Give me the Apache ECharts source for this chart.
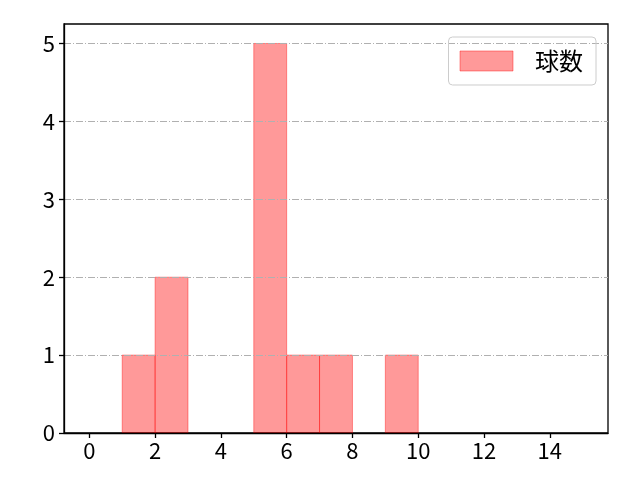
<!DOCTYPE html>
<html>
<head>
    <meta charset="utf-8">
    <title>球数</title>
    <script src="https://cdn.jsdelivr.net/npm/echarts@6/dist/echarts.min.js"></script>
    <style>
        html, body { margin: 0; padding: 0; background: #fff; }
        #main { width: 640px; height: 480px; }
    </style>
</head>
<body>
<div id="main"></div>
<script type="text/javascript">
    // histogram bins (left edge, right edge) and counts
    var binStart = [1, 2, 5, 6, 7, 9];
    var binEnd = [2, 3, 6, 7, 8, 10];
    var counts = [1, 2, 5, 1, 1, 1];
    var xTicks = [0, 2, 4, 6, 8, 10, 12, 14];
    var yTicks = [0, 1, 2, 3, 4, 5];
    var seriesName = '球数';

    var font = '"Noto Sans CJK JP", "Noto Sans", sans-serif';
    var binData = [];
    for (var i = 0; i < counts.length; i++) {
        binData.push([binStart[i], binEnd[i], counts[i]]);
    }

    var myChart = echarts.init(document.getElementById('main'));
    var option = {
        animation: false,
        textStyle: { fontFamily: font },
        grid: {
            left: 64, right: 32, top: 24, bottom: 47,
            show: true,
            borderColor: '#000',
            borderWidth: 1.3,
            backgroundColor: 'transparent'
        },
        legend: {
            right: 44, top: 37,
            orient: 'vertical',
            padding: [12, 13, 12, 11],
            borderColor: '#cccccc',
            borderWidth: 1,
            borderRadius: 4,
            itemWidth: 53,
            itemHeight: 20,
            textStyle: { fontSize: 24, color: '#000', fontFamily: font, padding: [0, 0, 0, 17] },
            data: [{
                name: seriesName,
                icon: 'rect',
                itemStyle: { color: 'rgba(255,0,0,0.4)', borderColor: 'rgba(255,0,0,0.4)', borderWidth: 1 }
            }]
        },
        xAxis: {
            type: 'value',
            min: -0.77,
            max: 15.77,
            z: 4,
            axisLine: { show: true, onZero: false, lineStyle: { color: '#000', width: 1.3 } },
            axisTick: { show: true, length: 5, lineStyle: { color: '#000', width: 1.3 }, customValues: xTicks },
            axisLabel: { color: '#000', fontSize: 22, margin: 7, customValues: xTicks },
            splitLine: { show: false }
        },
        yAxis: {
            type: 'value',
            min: 0,
            max: 5.25,
            z: 3,
            axisLine: { show: true, onZero: false, lineStyle: { color: '#000', width: 1.3 } },
            axisTick: { show: true, length: 5, lineStyle: { color: '#000', width: 1.3 }, customValues: yTicks },
            axisLabel: { color: '#000', fontSize: 22, margin: 9, customValues: yTicks },
            splitLine: {
                show: true,
                lineStyle: { color: '#b0b0b0', width: 1, type: [7, 2, 1, 2] }
            }
        },
        series: [{
            name: seriesName,
            type: 'custom',
            z: 2,
            itemStyle: { color: 'rgba(255,0,0,0.4)' },
            renderItem: function (params, api) {
                var p0 = api.coord([api.value(0), api.value(2)]);
                var p1 = api.coord([api.value(1), 0]);
                return {
                    type: 'rect',
                    shape: { x: p0[0], y: p0[1], width: p1[0] - p0[0], height: p1[1] - p0[1] },
                    style: { fill: 'rgba(255,0,0,0.4)', stroke: 'rgba(255,0,0,0.4)', lineWidth: 1 }
                };
            },
            encode: { x: [0, 1], y: 2 },
            data: binData
        }]
    };
    myChart.setOption(option);
</script>
</body>
</html>
